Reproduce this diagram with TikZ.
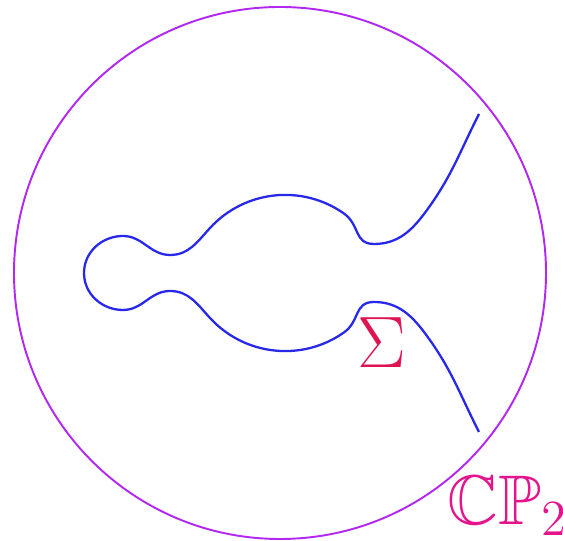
\documentclass[tikz,border=0pt]{standalone}
\usepackage{amssymb}
\usetikzlibrary{positioning}
\definecolor{rimpurple}{RGB}{178,40,240}
\definecolor{curveblue}{RGB}{40,40,235}
\definecolor{sigmared}{RGB}{222,20,82}
\definecolor{cppink}{RGB}{228,20,140}
\newcommand{\halfcurve}{(0.84,0) to[out=90,in=180] (1.23,0.37)
    to[out=0,in=180] (1.70,0.18)
    to[out=0,in=227.5] (2.10,0.45)
    arc[start angle=137.5, end angle=55, radius=1.02]
    to[out=-35,in=180, looseness=1.2] (3.74,0.29)
    to[out=0,in=234] (4.27,0.63)
    to[out=54,in=243] (4.79,1.59)}

\begin{document}
\begin{tikzpicture}[
    %% -- Styles -----------------------------------------------------------
    %%
    %% rim: the big disc standing for the plane
    rim/.style={draw=rimpurple, line width=0.55pt},
    %% curve: one half of the real curve, mirrored for the other half
    curve/.style={draw=curveblue, line width=0.65pt},
    %% tags: the two labels
    sigmatag/.style={text=sigmared, font=\fontsize{19.5}{22}\selectfont, inner sep=0pt},
    cptag/.style={text=cppink, font=\fontsize{20}{24}\selectfont, inner sep=0pt},
]
\useasboundingbox (0,-2.68) rectangle (5.63,2.73);

%% -- Place shapes here ----------------------------------------------------

\draw[rim] (2.80,0) circle (2.66);
\draw[curve] \halfcurve;
\draw[curve, yscale=-1] \halfcurve;

%% -- Labels ---------------------------------------------------------------

\node[sigmatag] (sigma) at (3.82,-0.70) {$\Sigma$};
\node[cptag]    (cp2)   at (5.08,-2.33) {$\mathbb{CP}_2$};

\end{tikzpicture}
\end{document}
